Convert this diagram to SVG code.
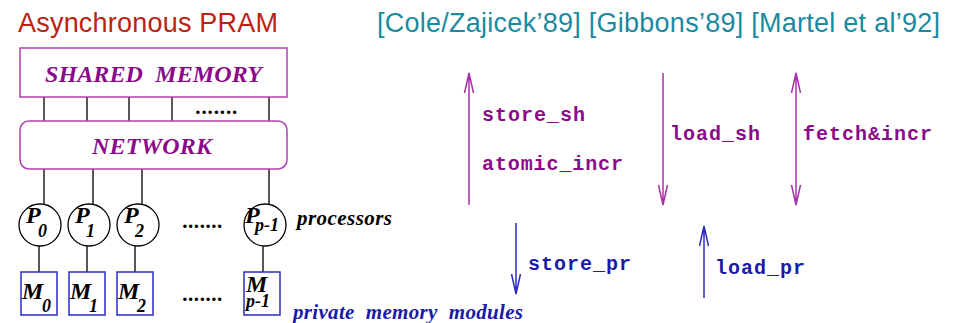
<svg xmlns="http://www.w3.org/2000/svg" width="953" height="323" viewBox="0 0 953 323">
<defs>
<style>
.title{font-family:"Liberation Sans",Arial,sans-serif;font-size:27px}
.lbl{font-family:"Liberation Serif","Times New Roman",serif;font-weight:bold;font-style:italic;fill:#8b0a8b}
.blk{font-family:"Liberation Serif","Times New Roman",serif;font-weight:bold;font-style:italic;fill:#000}
.mono{font-family:"Liberation Mono","Courier New",monospace;font-weight:bold;font-size:20px}
.pur{fill:#8b0a8b}
.blu{fill:#1a1aaa}
.wire{stroke:#000;stroke-width:1.3;fill:none}
.pbox{fill:#fff;stroke:#b040b0;stroke-width:1.5}
.mbox{fill:#fff;stroke:#2b2bc0;stroke-width:1.5}
.circ{fill:#fff;stroke:#000;stroke-width:1.3}
.parr{stroke:#a830a8;stroke-width:1.5;fill:none}
.barr{stroke:#2b2bc0;stroke-width:1.5;fill:none}
</style>
</defs>
<text class="title" x="18" y="32" fill="#bb2211" textLength="260">Asynchronous PRAM</text>
<text class="title" x="377" y="32" fill="#1a8aa0" font-size="26" textLength="563">[Cole/Zajicek’89] [Gibbons’89] [Martel et al’92]</text>

<g id="connectors">
<path class="wire" d="M44 97V121M87 97V121M129 97V121M172 97V121M269 97V121"/>
<path class="wire" d="M44 169V205M93 169V205M142 169V205M269 169V205"/>
<path class="wire" d="M39 246V272M87 246V272M135 246V272M263 246V272"/>
</g>

<g id="shared_memory">
<rect class="pbox" x="20" y="48" width="267" height="49"/>
<text class="lbl" x="45" y="82" font-size="24" xml:space="preserve" textLength="217">SHARED  MEMORY</text>
</g>
<text class="blk" x="196" y="114" font-size="21" textLength="42">.......</text>

<g id="network">
<rect class="pbox" x="20" y="121" width="267" height="48" rx="9"/>
<text class="lbl" x="92" y="154" font-size="24" textLength="120">NETWORK</text>
</g>

<g id="P0"><circle class="circ" cx="40" cy="225" r="21"/><text class="blk" x="26" y="223" font-size="24">P</text><text class="blk" x="38" y="237" font-size="18">0</text></g>
<g id="P1"><circle class="circ" cx="89" cy="225" r="21"/><text class="blk" x="75" y="223" font-size="24">P</text><text class="blk" x="86" y="237" font-size="18">1</text></g>
<g id="P2"><circle class="circ" cx="138" cy="225" r="21"/><text class="blk" x="124" y="223" font-size="24">P</text><text class="blk" x="135" y="237" font-size="18">2</text></g>
<text class="blk" x="183" y="228" font-size="21" textLength="40">.......</text>
<g id="Pp-1"><circle class="circ" cx="265" cy="225" r="21"/><text class="blk" x="245" y="223" font-size="24">P</text><text class="blk" x="255" y="231" font-size="18">p-1</text></g>
<text class="blk" x="297" y="225" font-size="21" textLength="95">processors</text>

<g id="M0"><rect class="mbox" x="21" y="272" width="36" height="43"/><text class="blk" x="22" y="299" font-size="24">M</text><text class="blk" x="42" y="312" font-size="18">0</text></g>
<g id="M1"><rect class="mbox" x="69" y="272" width="36" height="43"/><text class="blk" x="70" y="299" font-size="24">M</text><text class="blk" x="89" y="312" font-size="18">1</text></g>
<g id="M2"><rect class="mbox" x="117" y="272" width="36" height="43"/><text class="blk" x="118" y="299" font-size="24">M</text><text class="blk" x="137" y="312" font-size="18">2</text></g>
<text class="blk" x="183" y="301" font-size="21" textLength="40">.......</text>
<g id="Mp-1"><rect class="mbox" x="244" y="272" width="36" height="43"/><text class="blk" x="246" y="292" font-size="24">M</text><text class="blk" x="246" y="307" font-size="18">p-1</text></g>
<text x="293" y="319" font-size="21" font-family="Liberation Serif,serif" font-weight="bold" font-style="italic" fill="#1a1aaa" xml:space="preserve" textLength="230">private  memory  modules</text>

<g id="op-arrows">
<path class="parr" d="M469 73V205M464.5 93L469 73L473.5 93"/>
<path class="parr" d="M663 73V205M658.5 185L663 205L667.5 185"/>
<path class="parr" d="M796 73V205M791.5 93L796 73L800.5 93M791.5 185L796 205L800.5 185"/>
<path class="barr" d="M516 223V294M511.5 274L516 294L520.5 274"/>
<path class="barr" d="M704 226V298M699.5 246L704 226L708.5 246"/>
</g>
<text class="mono pur" x="482" y="121" textLength="103">store_sh</text>
<text class="mono pur" x="482" y="170" textLength="141">atomic_incr</text>
<text class="mono pur" x="670" y="140" textLength="90">load_sh</text>
<text class="mono pur" x="803" y="140" textLength="129">fetch&amp;incr</text>
<text class="mono blu" x="528" y="270" textLength="103">store_pr</text>
<text class="mono blu" x="715" y="274" textLength="90">load_pr</text>
</svg>
